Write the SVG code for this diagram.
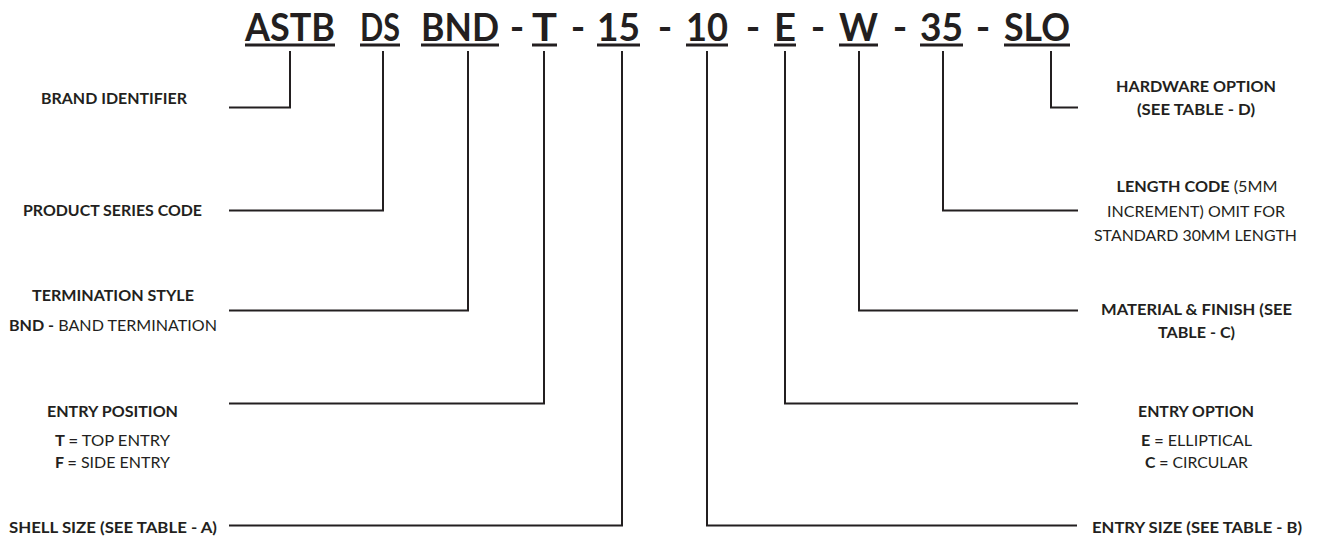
<svg xmlns="http://www.w3.org/2000/svg" width="1317" height="537" viewBox="0 0 1317 537">
<style>
.code{font-family:Lato,"Open Sans",sans-serif;font-weight:bold;font-size:39px;fill:#231f20}
.t{font-family:Lato,"Open Sans",sans-serif;font-size:16px;fill:#231f20}
.b{font-weight:bold}
.r{font-weight:normal}
.ul{stroke:#231f20;stroke-width:3}
.c{fill:none;stroke:#231f20;stroke-width:2}
</style>
<rect width="1317" height="537" fill="#ffffff"/>
<g id="code">
<text class="code" x="245" y="41" textLength="90" lengthAdjust="spacingAndGlyphs">ASTB</text>
<text class="code" x="360" y="41" textLength="40" lengthAdjust="spacingAndGlyphs">DS</text>
<text class="code" x="421" y="41" textLength="78" lengthAdjust="spacingAndGlyphs">BND</text>
<text class="code" x="532" y="41" textLength="25" lengthAdjust="spacingAndGlyphs">T</text>
<text class="code" x="597" y="41" textLength="43" lengthAdjust="spacingAndGlyphs">15</text>
<text class="code" x="686" y="41" textLength="42" lengthAdjust="spacingAndGlyphs">10</text>
<text class="code" x="774" y="41" textLength="22" lengthAdjust="spacingAndGlyphs">E</text>
<text class="code" x="839" y="41" textLength="39" lengthAdjust="spacingAndGlyphs">W</text>
<text class="code" x="920" y="41" textLength="43" lengthAdjust="spacingAndGlyphs">35</text>
<text class="code" x="1004" y="41" textLength="66" lengthAdjust="spacingAndGlyphs">SLO</text>
<g text-anchor="middle">
<text class="code" x="517" y="41">-</text>
<text class="code" x="578" y="41">-</text>
<text class="code" x="665" y="41">-</text>
<text class="code" x="753" y="41">-</text>
<text class="code" x="818" y="41">-</text>
<text class="code" x="900" y="41">-</text>
<text class="code" x="983" y="41">-</text>
</g>
<line class="ul" x1="245" y1="45" x2="335" y2="45"/>
<line class="ul" x1="360" y1="45" x2="400" y2="45"/>
<line class="ul" x1="421" y1="45" x2="499" y2="45"/>
<line class="ul" x1="532" y1="45" x2="557" y2="45"/>
<line class="ul" x1="597" y1="45" x2="640" y2="45"/>
<line class="ul" x1="686" y1="45" x2="728" y2="45"/>
<line class="ul" x1="774" y1="45" x2="796" y2="45"/>
<line class="ul" x1="839" y1="45" x2="878" y2="45"/>
<line class="ul" x1="920" y1="45" x2="963" y2="45"/>
<line class="ul" x1="1004" y1="45" x2="1070" y2="45"/>
</g>
<g id="connectors">
<polyline class="c" points="290,51 290,107.5 229,107.5"/>
<polyline class="c" points="383,51 383,210.5 229,210.5"/>
<polyline class="c" points="468,51 468,310.5 229,310.5"/>
<polyline class="c" points="544,51 544,403.5 229,403.5"/>
<polyline class="c" points="622,51 622,525.5 229,525.5"/>
<polyline class="c" points="707,51 707,525.5 1077,525.5"/>
<polyline class="c" points="785,51 785,403.5 1078,403.5"/>
<polyline class="c" points="859,51 859,310.5 1078,310.5"/>
<polyline class="c" points="943,51 943,210.5 1078,210.5"/>
<polyline class="c" points="1051,51 1051,107.5 1078,107.5"/>
</g>
<g id="brand-identifier" text-anchor="middle">
<text class="t b" x="114" y="104" textLength="146" lengthAdjust="spacingAndGlyphs">BRAND IDENTIFIER</text>
</g>
<g id="product-series-code" text-anchor="middle">
<text class="t b" x="112.5" y="216" textLength="179" lengthAdjust="spacingAndGlyphs">PRODUCT SERIES CODE</text>
</g>
<g id="termination-style" text-anchor="middle">
<text class="t b" x="113" y="301" textLength="162" lengthAdjust="spacingAndGlyphs">TERMINATION STYLE</text>
<text class="t" x="113" y="331" textLength="208" lengthAdjust="spacingAndGlyphs"><tspan class="b">BND -</tspan> BAND TERMINATION</text>
</g>
<g id="entry-position" text-anchor="middle">
<text class="t b" x="112.5" y="417" textLength="131" lengthAdjust="spacingAndGlyphs">ENTRY POSITION</text>
<text class="t" x="112.5" y="446" textLength="115" lengthAdjust="spacingAndGlyphs"><tspan class="b">T =</tspan> TOP ENTRY</text>
<text class="t" x="112.5" y="468" textLength="115" lengthAdjust="spacingAndGlyphs"><tspan class="b">F =</tspan> SIDE ENTRY</text>
</g>
<g id="shell-size" text-anchor="middle">
<text class="t b" x="113" y="533" textLength="208" lengthAdjust="spacingAndGlyphs">SHELL SIZE (SEE TABLE - A)</text>
</g>
<g id="hardware-option" text-anchor="middle">
<text class="t b" x="1196" y="92" textLength="160" lengthAdjust="spacingAndGlyphs">HARDWARE OPTION</text>
<text class="t b" x="1196" y="115" textLength="118" lengthAdjust="spacingAndGlyphs">(SEE TABLE - D)</text>
</g>
<g id="length-code" text-anchor="middle">
<text class="t" x="1197" y="192" textLength="161" lengthAdjust="spacingAndGlyphs"><tspan class="b">LENGTH CODE</tspan> (5MM</text>
<text class="t" x="1196" y="217" textLength="178" lengthAdjust="spacingAndGlyphs">INCREMENT) OMIT FOR</text>
<text class="t" x="1195.5" y="241" textLength="203" lengthAdjust="spacingAndGlyphs">STANDARD 30MM LENGTH</text>
</g>
<g id="material-finish" text-anchor="middle">
<text class="t b" x="1196.5" y="315" textLength="191" lengthAdjust="spacingAndGlyphs">MATERIAL &amp; FINISH (SEE</text>
<text class="t b" x="1196.5" y="338" textLength="77" lengthAdjust="spacingAndGlyphs">TABLE - C)</text>
</g>
<g id="entry-option" text-anchor="middle">
<text class="t b" x="1196" y="417" textLength="116" lengthAdjust="spacingAndGlyphs">ENTRY OPTION</text>
<text class="t" x="1196.5" y="446" textLength="111" lengthAdjust="spacingAndGlyphs"><tspan class="b">E =</tspan> ELLIPTICAL</text>
<text class="t" x="1196.5" y="468" textLength="103" lengthAdjust="spacingAndGlyphs"><tspan class="b">C =</tspan> CIRCULAR</text>
</g>
<g id="entry-size" text-anchor="middle">
<text class="t b" x="1197" y="533" textLength="210" lengthAdjust="spacingAndGlyphs">ENTRY SIZE (SEE TABLE - B)</text>
</g>
</svg>
